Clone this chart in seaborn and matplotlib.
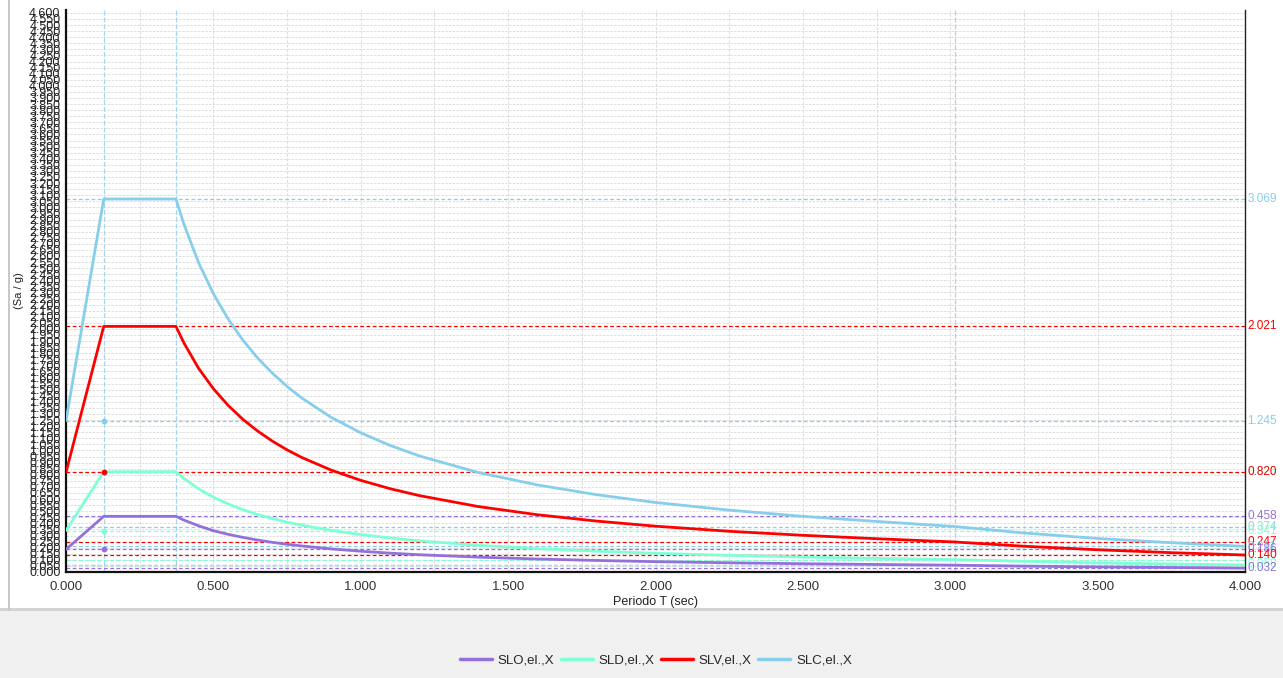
import matplotlib
matplotlib.use("Agg")
import matplotlib.pyplot as plt
import seaborn as sns
import numpy as np
import pandas as pd
from matplotlib.patches import Rectangle
from matplotlib.transforms import blended_transform_factory

# periods (TB ~0.128, TC ~0.373, TD ~3.016)
periodi = [0.000, 0.128, 0.373, 0.40, 0.45, 0.50, 0.55, 0.60, 0.65, 0.70, 0.75, 0.80, 0.90,
           1.00, 1.10, 1.20, 1.40, 1.60, 1.80, 2.00, 2.25, 2.50, 2.75, 3.016, 3.25, 3.50,
           3.75, 4.00]

slo = [0.186, 0.458, 0.458, 0.427, 0.38, 0.34, 0.31, 0.285, 0.263, 0.244, 0.228, 0.214, 0.19,
       0.171, 0.155, 0.142, 0.122, 0.107, 0.095, 0.085, 0.076, 0.068, 0.062, 0.056, 0.048,
       0.042, 0.037, 0.032]
sld = [0.341, 0.825, 0.825, 0.77, 0.684, 0.615, 0.56, 0.513, 0.473, 0.44, 0.41, 0.385, 0.342,
       0.308, 0.28, 0.256, 0.22, 0.192, 0.171, 0.154, 0.137, 0.123, 0.112, 0.102, 0.088,
       0.075, 0.066, 0.058]
slv = [0.820, 2.021, 2.021, 1.885, 1.675, 1.508, 1.371, 1.256, 1.16, 1.077, 1.005, 0.942, 0.838,
       0.754, 0.685, 0.628, 0.538, 0.471, 0.419, 0.377, 0.335, 0.302, 0.274, 0.247, 0.212,
       0.183, 0.159, 0.140]
slc = [1.245, 3.069, 3.069, 2.862, 2.544, 2.29, 2.082, 1.908, 1.761, 1.636, 1.527, 1.431, 1.272,
       1.145, 1.041, 0.954, 0.818, 0.716, 0.636, 0.572, 0.509, 0.458, 0.416, 0.374, 0.321,
       0.276, 0.241, 0.211]

serie = ["SLO,el.,X", "SLD,el.,X", "SLV,el.,X", "SLC,el.,X"]
colori = ["#9370db", "#7fffd4", "#ff0000", "#87ceeb"]

# reference levels shown as dashed lines with values on the right
livelli = {
    "SLO,el.,X": [0.458, 0.186, 0.056, 0.032],
    "SLD,el.,X": [0.825, 0.341, 0.102, 0.058],
    "SLV,el.,X": [2.021, 0.820, 0.247, 0.140],
    "SLC,el.,X": [3.069, 1.245, 0.374, 0.211],
}
etichette_dx = [
    ("3.069", 3.069, "#87ceeb"), ("2.021", 2.021, "#ff0000"), ("1.245", 1.245, "#87ceeb"),
    ("0.825", 0.825, "#7fffd4"), ("0.820", 0.820, "#ff0000"), ("0.458", 0.458, "#9370db"),
    ("0.374", 0.374, "#7fe0d0"), ("0.341", 0.341, "#7fffd4"), ("0.247", 0.247, "#ff0000"),
    ("0.211", 0.205, "#87ceeb"), ("0.186", 0.186, "#9370db"), ("0.140", 0.140, "#ff0000"),
    ("0.058", 0.066, "#7fffd4"), ("0.032", 0.036, "#9370db"),
]
periodi_vert = [0.128, 0.373, 3.016]

df = pd.DataFrame({
    "T": periodi * 4,
    "Sa": slo + sld + slv + slc,
    "serie": [s for s in serie for _ in periodi],
})

sns.set_style("white")
plt.rcParams["font.family"] = ["Liberation Sans", "DejaVu Sans"]

W, H = 1283, 678
fig = plt.figure(figsize=(W / 100, H / 100), dpi=100)
fig.patch.set_facecolor("white")

# gray footer area and borders like the original window
fig.patches.append(Rectangle((0, 0), 1, (H - 611) / H, transform=fig.transFigure,
                             facecolor="#f0f0f0", edgecolor="none", zorder=0))
fig.patches.append(Rectangle((0, (H - 611) / H), 1, 3 / H, transform=fig.transFigure,
                             facecolor="#d3d3d3", edgecolor="none", zorder=0))
fig.patches.append(Rectangle((8 / W, (H - 611) / H), 2 / W, 611 / H, transform=fig.transFigure,
                             facecolor="#c8c8c8", edgecolor="none", zorder=0))

ax = fig.add_axes([66 / W, (H - 572) / H, (1245 - 66) / W, (572 - 10) / H])
ax.set_facecolor("white")

# background grid
for y in np.arange(0, 4.601, 0.05):
    ax.axhline(y, color="#d9d9d9", lw=0.6, ls=(0, (3, 1.5)), zorder=1)
for x in np.arange(0.25, 4.0, 0.25):
    ax.axvline(x, color="#dcdcdc", lw=0.7, ls=(0, (3, 1.5)), zorder=1)
for x in periodi_vert:
    ax.axvline(x, color="#a8d4ec", lw=0.9, ls=(0, (4, 1.5)), zorder=1)

for s, c in zip(serie, colori):
    for v in livelli[s]:
        ax.axhline(v, color=c, lw=0.9, ls=(0, (3, 2)), zorder=2)

sns.lineplot(data=df, x="T", y="Sa", hue="serie", palette=colori, hue_order=serie,
             linewidth=2, ax=ax, zorder=3)

for s, c in zip(serie, colori):
    ax.scatter([periodi_vert[0]], [livelli[s][1]], s=10, color=c, zorder=4)

ax.set_xlim(0, 4.0)
ax.set_ylim(0, 4.624)
ax.set_xticks(np.arange(0, 4.01, 0.5))
ax.set_xticks(np.arange(0.25, 4.0, 0.5), minor=True)
ax.set_xticklabels([f"{v:.3f}" for v in np.arange(0, 4.01, 0.5)], fontsize=9.5, color="#333333")
yt = np.arange(0, 4.601, 0.05)
ax.set_yticks(yt)
ax.set_yticklabels([f"{v:.3f}" for v in yt], fontsize=9, color="#222222")
ax.tick_params(axis="both", which="both", direction="out", length=3, width=1, color="#222222")
ax.tick_params(axis="y", pad=1)

ax.set_xlabel("Periodo T (sec)", fontsize=9, color="#222222", labelpad=2)
ax.set_ylabel("(Sa / g)", fontsize=8, color="#222222", labelpad=4)

for side in ["left", "bottom"]:
    ax.spines[side].set_color("#111111")
    ax.spines[side].set_linewidth(1.6)
ax.spines["right"].set_color("#222222")
ax.spines["right"].set_linewidth(1.0)
ax.spines["top"].set_visible(False)

trans = blended_transform_factory(ax.transAxes, ax.transData)
for testo, y, c in etichette_dx:
    ax.text(1.002, y, testo, transform=trans, color=c, fontsize=8.5, va="center", ha="left")

handles, labels = ax.get_legend_handles_labels()
ax.get_legend().remove()
leg = fig.legend(handles, labels, loc="center", bbox_to_anchor=(656 / W, 18 / H), ncol=4,
                 frameon=False, fontsize=9.5, handlelength=2.4, columnspacing=0.5,
                 handletextpad=0.45)
for line in leg.get_lines():
    line.set_linewidth(2.5)

fig.savefig("out.png", dpi=100)
